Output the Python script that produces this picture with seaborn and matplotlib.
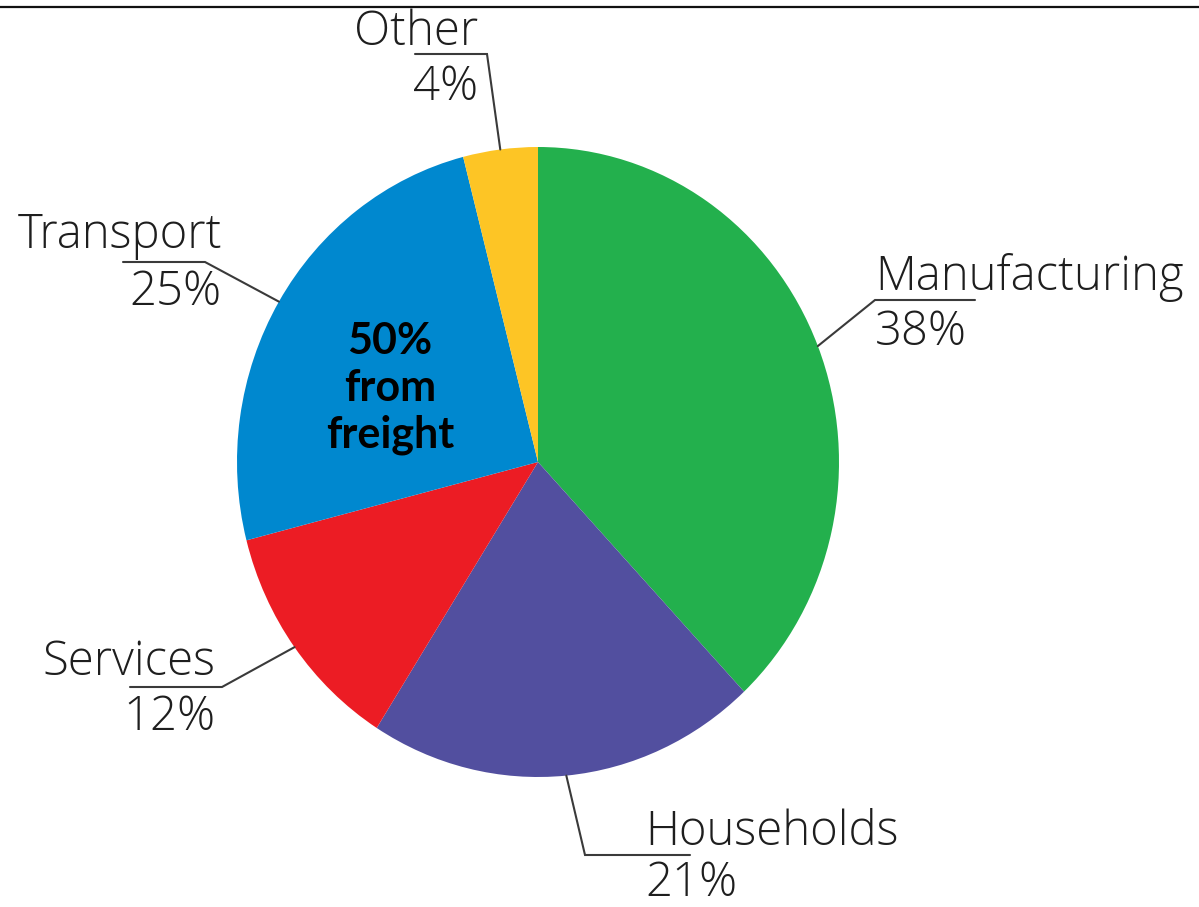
import numpy as np
import matplotlib
matplotlib.use("Agg")
import matplotlib.pyplot as plt
import seaborn as sns

# Energy use by sector
sectors = ["Manufacturing", "Households", "Services", "Transport", "Other"]
shares = [38, 21, 12, 25, 4]
colors = ["#23B04D", "#524F9F", "#EC1C24", "#0088CF", "#FDC525"]
pct_labels = ["38%", "21%", "12%", "25%", "4%"]
center_note = "50%\nfrom\nfreight"

sns.set_theme(style="white")
plt.rcParams["font.family"] = ["Open Sans", "DejaVu Sans"]

W, H = 1199, 907
fig = plt.figure(figsize=(W / 100, H / 100), dpi=100)
fig.patch.set_facecolor("white")

# pie axes: slightly taller than wide
cx, cy, rx, ry = 538, 462, 301, 315
pie_ax = fig.add_axes([(cx - rx) / W, 1 - (cy + ry) / H, 2 * rx / W, 2 * ry / H])
wedges, _ = pie_ax.pie(shares, colors=colors, startangle=90, counterclock=False,
                       radius=1.0, wedgeprops=dict(linewidth=0))
pie_ax.set_aspect("auto")
pie_ax.set_xlim(-1, 1)
pie_ax.set_ylim(-1, 1)
pie_ax.axis("off")

# overlay in pixel coordinates for labels and leaders
ov = fig.add_axes([0, 0, 1, 1], facecolor="none")
ov.set_xlim(0, W)
ov.set_ylim(H, 0)
ov.axis("off")

ov.axhline(7, color="#111111", lw=1.6)

def edge_point(w):
    mid = np.deg2rad((w.theta1 + w.theta2) / 2)
    disp = pie_ax.transData.transform((np.cos(mid), np.sin(mid)))
    return ov.transData.inverted().transform(disp)

# layout: (text x, align, name baseline, pct baseline, elbow x, underline far x, underline y)
layout = {
    "Manufacturing": (875, "left", 290, 345, 875, 975, 300),
    "Households": (645, "left", 845, 896, 585, 690, 855),
    "Services": (215, "right", 675, 730, 222, 130, 687),
    "Transport": (222, "right", 248, 305, 205, 123, 262),
    "Other": (478, "right", 45, 100, 487, 415, 54),
}

txt_kw = dict(fontsize=34, color="#1e1e1e", va="baseline", fontweight="light")
for w, name, pct in zip(wedges, sectors, pct_labels):
    tx, ha, yb1, yb2, ex, ux, uy = layout[name]
    px, py = edge_point(w)
    ov.plot([px, ex, ux], [py, uy, uy], color="#3a3a3a", lw=1.5,
            solid_joinstyle="miter")
    ov.text(tx, yb1, name, ha=ha, **txt_kw)
    ov.text(tx, yb2, pct, ha=ha, **txt_kw)

ov.text(390, 388, center_note, ha="center", va="center", fontsize=31,
        fontweight="bold", family=["Lato", "DejaVu Sans"], color="black",
        linespacing=1.2)

fig.savefig("out.png", dpi=100, facecolor="white")
